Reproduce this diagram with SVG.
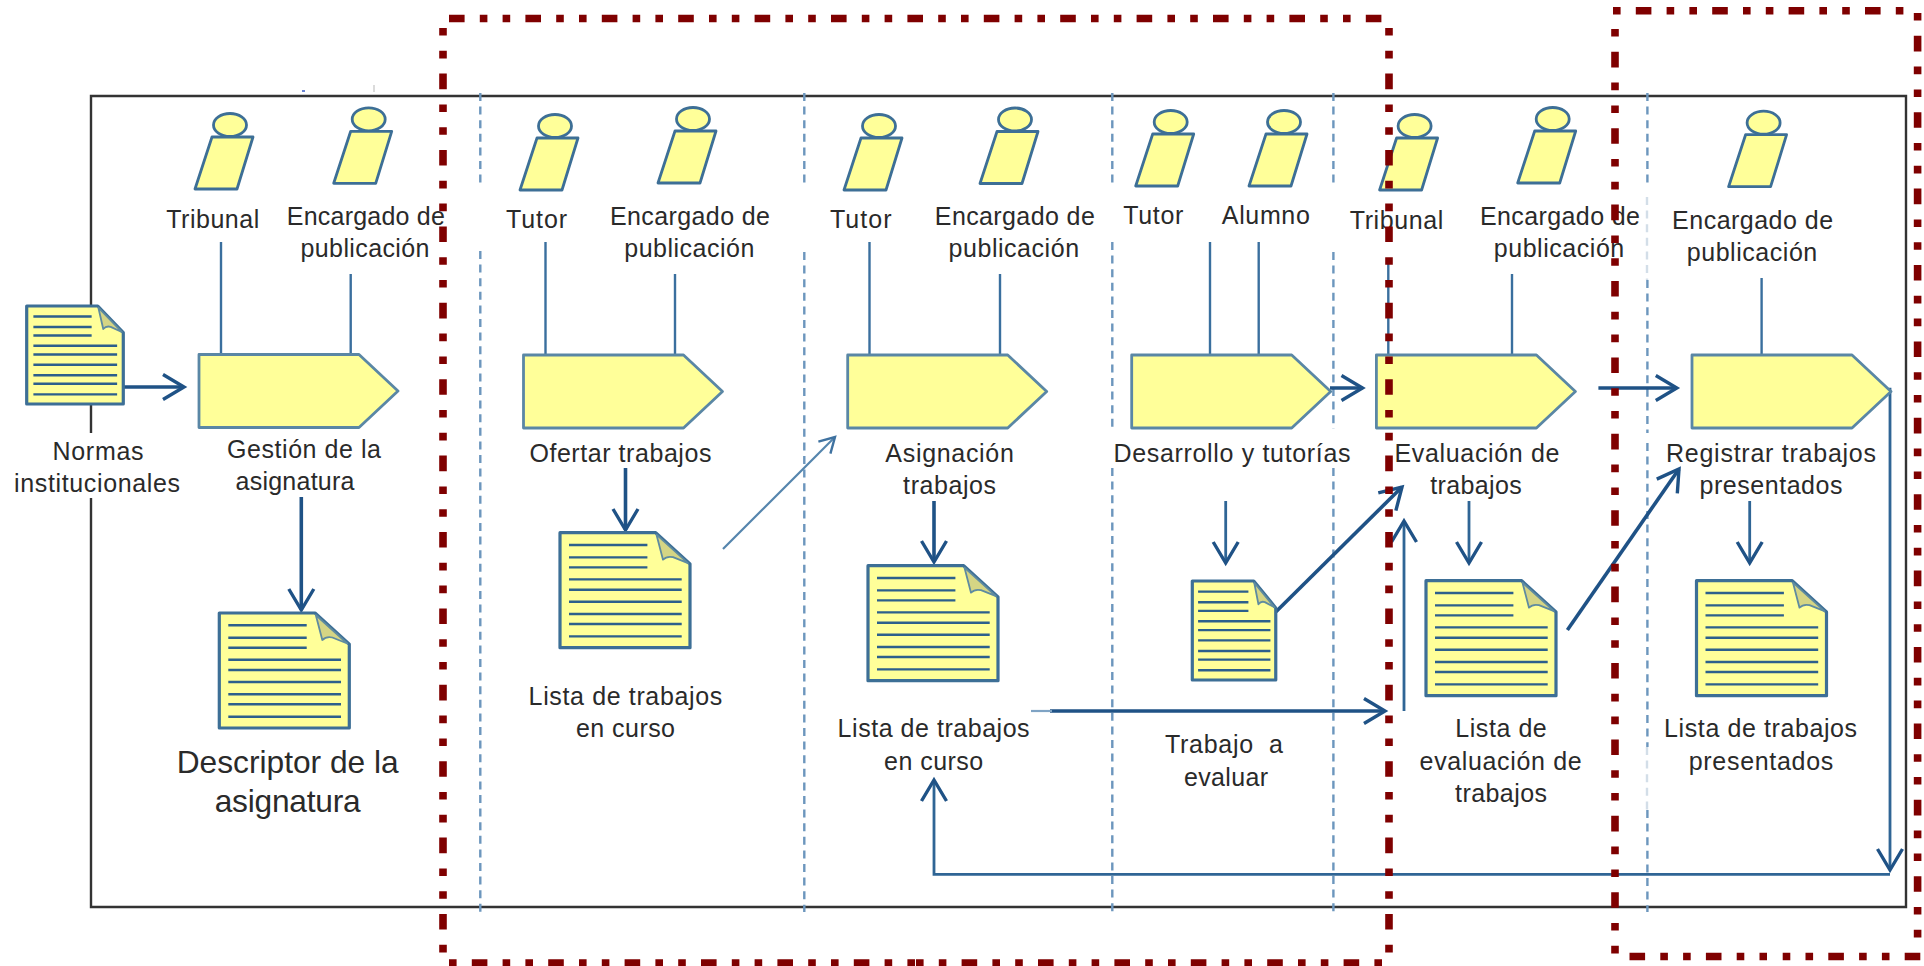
<svg xmlns="http://www.w3.org/2000/svg" width="1924" height="966" viewBox="0 0 1924 966">
<style>
text{font-family:"Liberation Sans",Arial,sans-serif;font-size:25px;fill:#2a2a2a;text-anchor:middle;white-space:pre}
.big{font-size:31.7px}
.frame{fill:none;stroke:#333;stroke-width:2.4}
.lane{fill:none;stroke:#6c96bd;stroke-width:2.4;stroke-dasharray:8 5.6}
.faint{stroke:#d3dee8}
.role{fill:none;stroke:#3a6f9e;stroke-width:2.4}
.arr{fill:none;stroke:#1f5286;stroke-width:3.6;marker-end:url(#open)}
.arr2{fill:none;stroke:#2f6595;stroke-width:2.8;marker-end:url(#open)}
.thin{fill:none;stroke:#5585ad;stroke-width:2.2;marker-end:url(#openThin)}
.red{fill:none;stroke:#7f0000;stroke-width:7.6;stroke-dasharray:15.6 15.2 7.6 15.2 7.6 15.2}
.o{stroke-dashoffset:30.8}
.s{stroke-dashoffset:53.6}
.ac{fill:#ffff99;stroke:#3d6f96;stroke-width:2.8;stroke-linejoin:round}
.pr{fill:#ffff99;stroke:#5a87a5;stroke-width:2.8;stroke-linejoin:round}
.dc{fill:#ffff99;stroke:#3d6f96;stroke-width:3.2;stroke-linejoin:round;vector-effect:non-scaling-stroke}
.fold{fill:#d5d584;stroke:#5f8ba0;stroke-width:1.8;stroke-linejoin:round;vector-effect:non-scaling-stroke}
.ln{fill:none;stroke:#2c5f8c;stroke-width:2.4;vector-effect:non-scaling-stroke}
</style>
<defs>
<marker id="open" markerUnits="userSpaceOnUse" viewBox="-26 -16 30 32" refX="0" refY="0" markerWidth="30" markerHeight="32" orient="auto"><path d="M-21 -12.5L0 0L-21 12.5" fill="none" stroke="#1f5286" stroke-width="3.4"/></marker>
<marker id="openThin" markerUnits="userSpaceOnUse" viewBox="-20 -12 24 24" refX="0" refY="0" markerWidth="24" markerHeight="24" orient="auto"><path d="M-15 -8.5L0 0L-15 8.5" fill="none" stroke="#3f72a0" stroke-width="2.4"/></marker>
<g id="actor">
<ellipse class="ac" cx="0" cy="0" rx="16.5" ry="11.5"/>
<path class="ac" d="M-18 12H23L7 64H-35Z"/>
</g>
<path id="process" class="pr" d="M0 0H160L199 36.5L160 73H0Z"/>
<g id="doc">
<path class="dc" d="M0 0H95.7L130 31.3V115H0Z"/>
<path class="fold" d="M96.5 2L103 27Q107 23 113 24.5L128 30.5Z"/>
<path class="ln" d="M9 12.3H87.4M9 24.7H87.4M9 34.7H87.4M9 46.7H121.7M9 57H121.7M9 69H121.7M9 81.3H121.7M9 91.3H121.7M9 103.7H121.7"/>
</g>
</defs>

<g id="frame">
<path class="frame" d="M91 305V96H1906V907H91V498M91 405V433"/>
<path d="M302 91H305" stroke="#2a50c0" stroke-width="1.4" fill="none"/>
<path d="M374 85V92" stroke="#ccc" stroke-width="1.4" fill="none"/>
</g>

<g id="lanes">
<path class="lane" d="M480.3 93V188M480.3 251V912"/>
<path class="lane" d="M804.3 93V188M804.3 252V912"/>
<path class="lane" d="M1112.3 93V188M1112.3 242V429M1112.3 468V912"/>
<path class="lane" d="M1333.4 93V188M1333.4 252V429M1333.4 468V912"/>
<path class="lane" d="M1647.4 93V188M1647.4 280V433M1647.4 443V747M1647.4 810V912"/>
<path class="lane faint" d="M1647 197V280M1647 747V810"/>
</g>

<g id="connectors">
<path class="role" d="M221 242V354"/>
<path class="role" d="M350.7 274V354"/>
<path class="role" d="M545.5 242V355"/>
<path class="role" d="M675 274V355"/>
<path class="role" d="M869.5 242V355"/>
<path class="role" d="M1000 274V355"/>
<path class="role" d="M1210 242V355"/>
<path class="role" d="M1258.7 242V355"/>
<path class="role" d="M1388.3 262V355"/>
<path class="role" d="M1512 274V355"/>
<path class="role" d="M1761.6 278V355"/>
<path class="arr" d="M123 387H184"/>
<path class="arr" d="M301.3 497V610"/>
<path class="arr" d="M625.5 468V530"/>
<path class="thin" d="M723 549L835 437"/>
<path class="arr" d="M934 501V562"/>
<path class="arr" d="M1050 711H1385"/>
<path d="M1031 711H1052" fill="none" stroke="#7fa3c4" stroke-width="2.2"/>
<path class="arr2" d="M1404 711V521"/>
<path class="arr2" d="M1225.7 501V563"/>
<path class="arr" d="M1275.7 612L1402 487"/>
<path class="arr" d="M1330 388H1362.5"/>
<path class="arr2" d="M1469 501V563"/>
<path class="arr" d="M1567.4 630L1679 469"/>
<path class="arr" d="M1598.4 388H1676.8"/>
<path class="arr2" d="M1749.7 501V563"/>
<path class="arr2" d="M1890 387.7V870"/>
<path class="arr2" d="M1890 874.3H934V780"/>
</g>

<g id="n-normas"><use href="#doc" transform="translate(26.7 306) scale(.743 .852)"/><text x="98" y="459.5" textLength="91">Normas</text><text x="97" y="492" textLength="166">institucionales</text></g>
<g id="n-tribunal-1"><use href="#actor" x="230" y="125"/><text x="212.7" y="228" textLength="93">Tribunal</text></g>
<g id="n-encargado-1"><use href="#actor" x="368.7" y="119.3"/><text x="365.8" y="225" textLength="158">Encargado de</text><text x="365" y="256.7" textLength="129">publicación</text></g>
<g id="n-gestion"><use href="#process" x="199" y="354.5"/><text x="304" y="458" textLength="154">Gestión de la</text><text x="295" y="490" textLength="119">asignatura</text></g>
<g id="n-descriptor"><use href="#doc" x="219.3" y="613"/><text class="big" x="287.7" y="773" textLength="222">Descriptor de la</text><text class="big" x="287.7" y="811.7" textLength="146">asignatura</text></g>

<g id="n-tutor-2"><use href="#actor" x="555" y="126"/><text x="536.5" y="228" textLength="61">Tutor</text></g>
<g id="n-encargado-2"><use href="#actor" x="693" y="119"/><text x="690" y="225" textLength="160">Encargado de</text><text x="689.3" y="256.7" textLength="130">publicación</text></g>
<g id="n-ofertar"><use href="#process" x="523.5" y="355"/><text x="620.4" y="461.7" textLength="182">Ofertar trabajos</text></g>
<g id="n-lista-1"><use href="#doc" x="560" y="532.7"/><text x="625.4" y="705" textLength="193.6">Lista de trabajos</text><text x="625.5" y="737" textLength="99">en curso</text></g>

<g id="n-tutor-3"><use href="#actor" x="879" y="126"/><text x="860.8" y="228" textLength="61.7">Tutor</text></g>
<g id="n-encargado-3"><use href="#actor" x="1015" y="119.5"/><text x="1014.8" y="225" textLength="160">Encargado de</text><text x="1013.8" y="256.7" textLength="130.5">publicación</text></g>
<g id="n-asignacion"><use href="#process" x="847.7" y="355"/><text x="949.6" y="461.7" textLength="128.5">Asignación</text><text x="949.6" y="494" textLength="93">trabajos</text></g>
<g id="n-lista-2"><use href="#doc" x="868" y="565.7"/><text x="933.6" y="737" textLength="192">Lista de trabajos</text><text x="933.6" y="770" textLength="99">en curso</text></g>

<g id="n-tutor-4"><use href="#actor" x="1170.7" y="122"/><text x="1153.3" y="224.3" textLength="60">Tutor</text></g>
<g id="n-alumno"><use href="#actor" x="1284" y="122"/><text x="1265.8" y="224.3" textLength="88">Alumno</text></g>
<g id="n-desarrollo"><use href="#process" x="1131.7" y="355"/><text x="1232" y="461.7" textLength="237">Desarrollo y tutorías</text></g>
<g id="n-trabajo"><use href="#doc" transform="translate(1192.3 581) scale(.642 .861)"/><text x="1224" y="753" textLength="118">Trabajo  a</text><text x="1226" y="785.7" textLength="84">evaluar</text></g>

<g id="n-tribunal-2"><use href="#actor" x="1414.6" y="126"/><text x="1396.5" y="229" textLength="93.5">Tribunal</text></g>
<g id="n-encargado-4"><use href="#actor" x="1552.7" y="119"/><text x="1560" y="225" textLength="160">Encargado de</text><text x="1559" y="256.7" textLength="130.5">publicación</text></g>
<g id="n-evaluacion"><use href="#process" x="1376.4" y="355"/><text x="1477" y="461.7" textLength="165">Evaluación de</text><text x="1476" y="494" textLength="91.5">trabajos</text></g>
<g id="n-lista-eval"><use href="#doc" x="1426" y="580.7"/><text x="1501" y="737" textLength="91.5">Lista de</text><text x="1500.6" y="770" textLength="162">evaluación de</text><text x="1501" y="801.7" textLength="92">trabajos</text></g>

<g id="n-encargado-5"><use href="#actor" x="1763.6" y="122.7"/><text x="1752.6" y="229" textLength="161">Encargado de</text><text x="1752" y="260.7" textLength="130.5">publicación</text></g>
<g id="n-registrar"><use href="#process" x="1692" y="355"/><text x="1771" y="461.7" textLength="210">Registrar trabajos</text><text x="1771" y="494" textLength="143">presentados</text></g>
<g id="n-lista-pres"><use href="#doc" x="1696.5" y="580.7"/><text x="1760.6" y="737" textLength="193">Lista de trabajos</text><text x="1761" y="770" textLength="144.5">presentados</text></g>

<g id="red-box-1">
<path class="red" d="M449 18.5H1383"/>
<path class="red o" d="M443 28V954"/>
<path class="red o" d="M1389 28V954"/>
<path class="red s" d="M449 963H916"/>
<path class="red o" d="M916 963H1384"/>
</g>
<g id="red-box-2">
<path class="red s" d="M1613 10.7H1905"/>
<path class="red s" d="M1615 29V954"/>
<path class="red s" d="M1917.6 13V938"/>
<path class="red" d="M1629.5 956.5H1767"/>
<path class="red o" d="M1782.7 956.5H1921"/>
</g>
</svg>
